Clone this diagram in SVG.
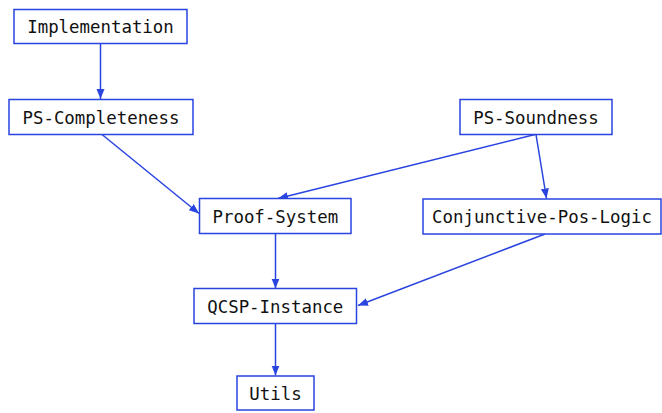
<svg xmlns="http://www.w3.org/2000/svg" width="662" height="413" viewBox="0 0 662 413">
  <style>
    .box rect { fill: #ffffff; stroke: #2a44e0; stroke-width: 1.5; }
    .box text { font-family: "DejaVu Sans Mono", "Liberation Mono", monospace; font-size: 17.4px; fill: #111111; text-anchor: middle; }
    .edge { fill: none; stroke: #2a44e0; stroke-width: 1.5; marker-end: url(#arrow); }
  </style>
  <defs>
    <marker id="arrow" viewBox="0 0 10 10" refX="10" refY="5" markerWidth="10" markerHeight="10" markerUnits="userSpaceOnUse" orient="auto">
      <path d="M0,1 L10,5 L0,9 Z" fill="#2a44e0"/>
    </marker>
  </defs>

  <g id="connectors">
    <line class="edge" x1="100.5" y1="43.5" x2="100.5" y2="99"/>
    <line class="edge" x1="102" y1="134.5" x2="199" y2="213.5"/>
    <line class="edge" x1="535" y1="134.5" x2="278" y2="198.5"/>
    <line class="edge" x1="536" y1="134.5" x2="546.5" y2="198.5"/>
    <line class="edge" x1="545" y1="234" x2="358" y2="305.5"/>
    <line class="edge" x1="275.5" y1="233.5" x2="275.5" y2="288.5"/>
    <line class="edge" x1="275.5" y1="323.5" x2="275.5" y2="375.5"/>
  </g>

  <g id="implementation" class="box">
    <rect x="14" y="9.5" width="173" height="34"/>
    <text x="100.5" y="33">Implementation</text>
  </g>
  <g id="ps-completeness" class="box">
    <rect x="9" y="99.5" width="184" height="35"/>
    <text x="101" y="123.5">PS-Completeness</text>
  </g>
  <g id="ps-soundness" class="box">
    <rect x="460" y="99.5" width="152" height="35"/>
    <text x="536" y="123.5">PS-Soundness</text>
  </g>
  <g id="proof-system" class="box">
    <rect x="199.5" y="198.5" width="151.5" height="35"/>
    <text x="275.3" y="222.5">Proof-System</text>
  </g>
  <g id="conjunctive-pos-logic" class="box">
    <rect x="423" y="199" width="238" height="35"/>
    <text x="542" y="223">Conjunctive-Pos-Logic</text>
  </g>
  <g id="qcsp-instance" class="box">
    <rect x="194" y="288.5" width="162.5" height="35"/>
    <text x="275.3" y="312.5">QCSP-Instance</text>
  </g>
  <g id="utils" class="box">
    <rect x="237" y="376" width="77" height="34"/>
    <text x="275.5" y="399.5">Utils</text>
  </g>
</svg>
